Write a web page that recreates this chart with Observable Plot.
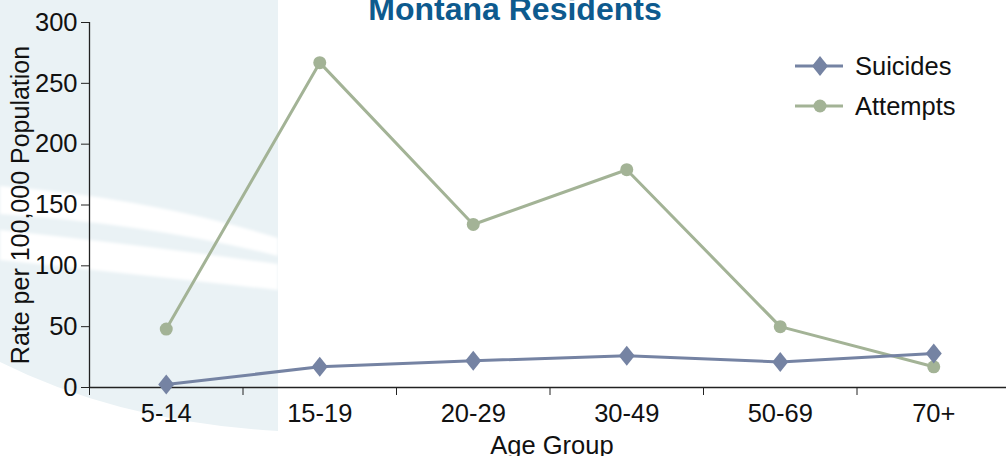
<!DOCTYPE html>
<html>
<head>
<meta charset="utf-8">
<script src="https://cdn.jsdelivr.net/npm/d3@7"></script>
<script src="https://cdn.jsdelivr.net/npm/@observablehq/plot@0.6"></script>
<style>
  html, body { margin: 0; padding: 0; background: #fff; }
  #wrap { position: relative; width: 1006px; height: 456px; overflow: hidden; font-family: "Liberation Sans", Arial, sans-serif; }
  #bg { position: absolute; left: 0; top: 0; }
  #chart { position: absolute; left: 0; top: 0; }
  #title { position: absolute; left: 0; width: 1030px; top: -6px; text-align: center; font-size: 32px; font-weight: bold; color: #0d5a8e; line-height: 30px; }
  .leg { position: absolute; left: 795px; height: 28px; display: flex; align-items: center; font-size: 25.5px; color: #111; }
  .leg span { margin-left: 10px; }
</style>
</head>
<body>
<div id="wrap">
  <svg id="bg" width="1006" height="456">
    <defs>
      <filter id="soft" x="-10%" y="-50%" width="120%" height="200%"><feGaussianBlur stdDeviation="1.5"/></filter>
    </defs>
    <path d="M0,0 H278 V431 Q120,422 0,362 Z" fill="#eaf2f5"/>
    <g filter="url(#soft)">
      <path d="M0,186 Q150,198 278,238 L278,256 Q150,224 0,214 Z" fill="#ffffff"/>
      <path d="M0,230 Q150,246 278,264 L278,290 Q150,276 0,260 Z" fill="#ffffff"/>
    </g>
  </svg>
  <div id="chart"></div>
  <div id="title">Montana Residents</div>
  <div class="leg" style="top:52px">
    <svg width="50" height="28"><line x1="0" y1="14" x2="48" y2="14" stroke="#7583a3" stroke-width="3"/><path d="M25,4 L33,14 L25,24 L17,14 Z" fill="#7583a3"/></svg>
    <span>Suicides</span>
  </div>
  <div class="leg" style="top:92px">
    <svg width="50" height="28"><line x1="0" y1="14" x2="48" y2="14" stroke="#a3b396" stroke-width="3"/><circle cx="25" cy="14" r="6.5" fill="#a3b396"/></svg>
    <span>Attempts</span>
  </div>
</div>
<script>
const ages = ["5-14", "15-19", "20-29", "30-49", "50-69", "70+"];
const suicides = [2.5, 17, 22, 26, 21, 28];
const attempts = [48, 267, 134, 179, 50, 17];
const yTicks = [0, 50, 100, 150, 200, 250, 300];

const colSuicides = "#7583a3";
const colAttempts = "#a3b396";

const sRows = ages.map((a, i) => ({x: i + 0.5, v: suicides[i]}));
const aRows = ages.map((a, i) => ({x: i + 0.5, v: attempts[i]}));
const centers = ages.map((a, i) => i + 0.5);
const bounds = d3.range(ages.length + 1);

const tallDiamond = {
  draw(ctx, size) {
    const r = Math.sqrt(size / Math.PI);
    const w = r, h = r * 1.25;
    ctx.moveTo(0, -h); ctx.lineTo(w, 0); ctx.lineTo(0, h); ctx.lineTo(-w, 0); ctx.closePath();
  }
};

const chart = Plot.plot({
  width: 1006,
  height: 456,
  marginLeft: 89,
  marginTop: 22,
  marginBottom: 69,
  marginRight: 0,
  style: {background: "transparent", fontFamily: "'Liberation Sans', Arial, sans-serif", color: "#111"},
  x: {type: "linear", domain: [0, ages.length], range: [89, 1010]},
  y: {domain: [0, 300], range: [387, 22]},
  marks: [
    Plot.axisY(yTicks, {tickSize: 8, tickPadding: 4, fontSize: 25.5, label: null, stroke: "#222"}),
    Plot.axisX(bounds, {tickSize: 8, tickFormat: () => "", label: null, stroke: "#222"}),
    Plot.axisX(centers, {tickSize: 0, tickPadding: 16, fontSize: 25.5, tickFormat: d => ages[Math.floor(d)], label: null}),
    Plot.ruleY([0], {stroke: "#222", strokeWidth: 1.3}),
    Plot.ruleX([0], {y1: 0, y2: 300, stroke: "#222", strokeWidth: 1.3}),
    Plot.line(aRows, {x: "x", y: "v", stroke: colAttempts, strokeWidth: 3}),
    Plot.dot(aRows, {x: "x", y: "v", r: 6.5, fill: colAttempts, stroke: "none"}),
    Plot.line(sRows, {x: "x", y: "v", stroke: colSuicides, strokeWidth: 3}),
    Plot.dot(sRows, {x: "x", y: "v", r: 8, symbol: tallDiamond, fill: colSuicides, stroke: "none"}),
    Plot.text(["Rate per 100,000 Population"], {frameAnchor: "left", textAnchor: "middle", lineAnchor: "middle", dx: -69, rotate: -90, fontSize: 25, fill: "#111"}),
    Plot.text(["Age Group"], {frameAnchor: "bottom", lineAnchor: "middle", dx: 4, dy: 58, fontSize: 25.5, fill: "#111"})
  ]
});
document.getElementById("chart").appendChild(chart);
</script>
</body>
</html>
